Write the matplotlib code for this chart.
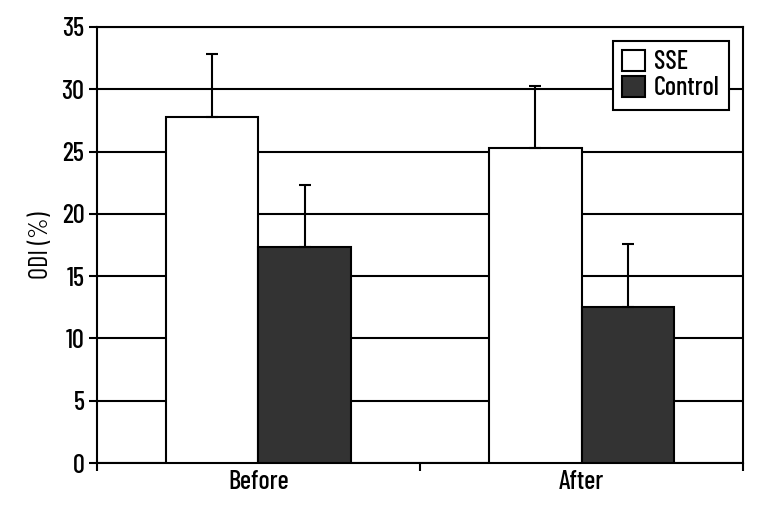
import numpy as np
import matplotlib
matplotlib.use('Agg')
import matplotlib.pyplot as plt

plt.rcParams['font.family'] = ['Barlow Condensed', 'DejaVu Sans']
plt.rcParams['font.weight'] = 'medium'

categories = ['Before', 'After']
sse_means = [27.8, 25.3]
sse_sd = [5.0, 5.0]
control_means = [17.3, 12.5]
control_sd = [5.0, 5.1]

fig = plt.figure(figsize=(7.71, 5.14), dpi=100)
ax = fig.add_axes([0.1258, 0.0992, 0.8379, 0.8483])

x = np.arange(len(categories))
w = 0.285
err_kw = dict(ecolor='black', elinewidth=1.5, capsize=4, capthick=1.5)

ax.bar(x - w / 2, sse_means, w, color='white', edgecolor='black', linewidth=1.5,
       yerr=[np.zeros(2), sse_sd], error_kw=err_kw, label='SSE', zorder=3)
ax.bar(x + w / 2, control_means, w, color='#333333', edgecolor='black', linewidth=1.5,
       yerr=[np.zeros(2), control_sd], error_kw=err_kw, label='Control', zorder=3)

ax.set_xlim(-0.5, 1.5)
ax.set_ylim(0, 35)
ax.set_yticks(np.arange(0, 36, 5))
ax.set_xticks(x)
ax.set_xticklabels(categories)
ax.set_xticks([-0.5, 0.5, 1.5], minor=True)
ax.tick_params(axis='x', which='major', length=0, labelsize=19, pad=5)
ax.tick_params(axis='x', which='minor', length=6, width=1.5, direction='out')
ax.tick_params(axis='y', length=6, width=1.5, direction='out', labelsize=19, pad=3)
ax.yaxis.grid(True, color='black', linewidth=1.5, zorder=0)
ax.set_axisbelow(True)
for s in ax.spines.values():
    s.set_linewidth(1.5)

ax.set_ylabel('ODI (%)', fontsize=19, labelpad=6)

leg = ax.legend(loc='upper right', bbox_to_anchor=(0.978, 0.969), borderaxespad=0,
                fancybox=False, framealpha=1, edgecolor='black', fontsize=19,
                handlelength=0.85, handleheight=0.85, handletextpad=0.35,
                labelspacing=0.05, borderpad=0.35)
leg.get_frame().set_linewidth(1.5)

fig.savefig('out.png', dpi=100)
